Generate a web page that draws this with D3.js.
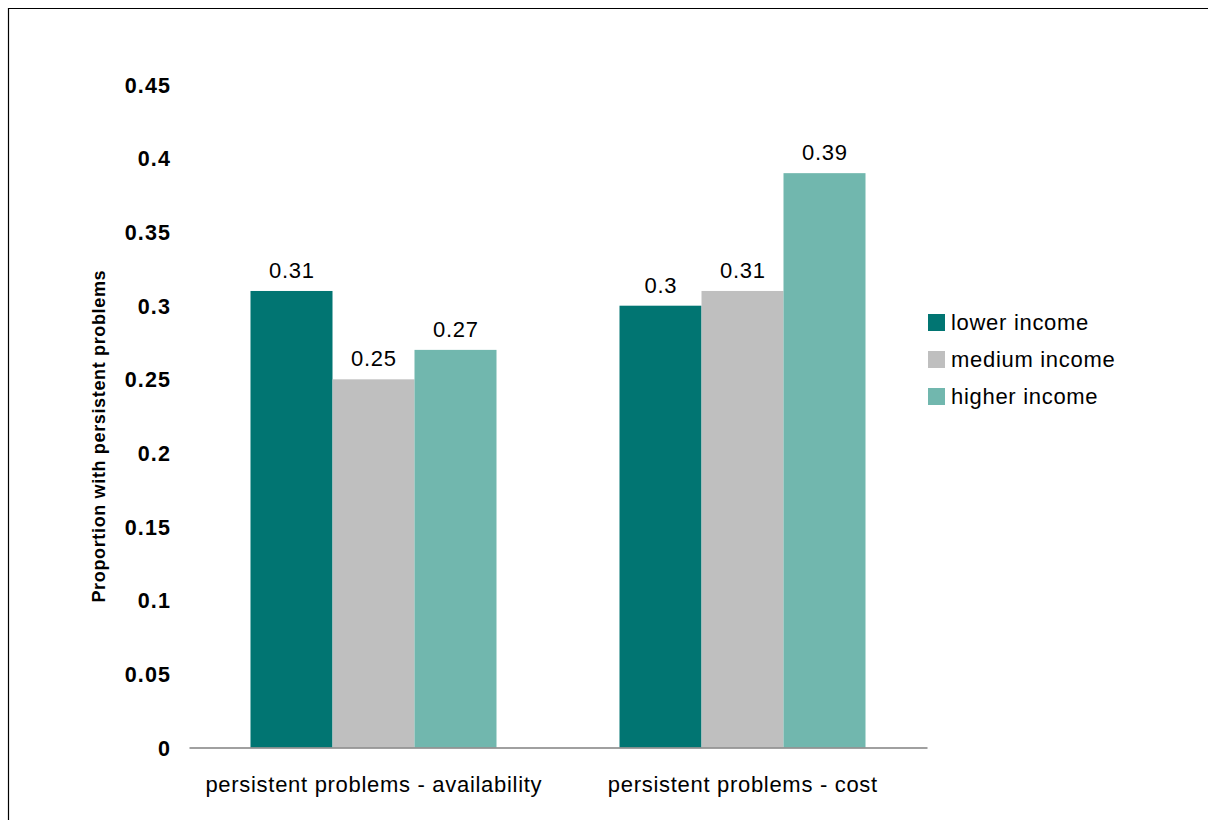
<!DOCTYPE html>
<html>
<head>
<meta charset="utf-8">
<script src="https://cdn.jsdelivr.net/npm/d3@7"></script>
<style>
  html, body { margin: 0; padding: 0; background: #fff; }
  svg { display: block; font-family: "Liberation Sans", Arial, sans-serif; }
</style>
</head>
<body>
<svg id="chart" width="1208" height="820"></svg>
<script>
// Chart data
const categories = ["persistent problems - availability", "persistent problems - cost"];
const seriesNames = ["lower income", "medium income", "higher income"];
const lowerIncome = [0.31, 0.30];
const mediumIncome = [0.25, 0.31];
const higherIncome = [0.27, 0.39];
const yTicks = [0, 0.05, 0.1, 0.15, 0.2, 0.25, 0.3, 0.35, 0.4, 0.45];
const colors = ["#017572", "#BFBFBF", "#71B7AE"];

const seriesValues = [lowerIncome, mediumIncome, higherIncome];

const svg = d3.select("#chart");
const FS = 22;         // main text size
const LS = 0.7;        // letter spacing

// Outer frame (left and top edges visible)
svg.append("line").attr("x1", 8.5).attr("x2", 8.5).attr("y1", 8).attr("y2", 820)
  .attr("stroke", "#000").attr("stroke-width", 1.2);
svg.append("line").attr("x1", 8).attr("x2", 1208).attr("y1", 8.5).attr("y2", 8.5)
  .attr("stroke", "#000").attr("stroke-width", 1.2);

const plot = { left: 189, right: 927, top: 84.8, bottom: 747.5 };

const y = d3.scaleLinear().domain([0, 0.45]).range([plot.bottom, plot.top]);
const x0 = d3.scaleBand().domain(categories).range([plot.left, plot.right]).padding(0);
const x1 = d3.scaleBand().domain(seriesNames)
  .range([x0.bandwidth() / 6, x0.bandwidth() * 5 / 6]).padding(0);

// Y tick labels (no axis line)
const yAxis = d3.axisLeft(y).tickValues(yTicks).tickSize(0).tickPadding(0)
  .tickFormat(d => d3.format("~g")(d));
const yG = svg.append("g").attr("transform", `translate(171,0)`).call(yAxis);
yG.select(".domain").remove();
yG.selectAll("text")
  .attr("font-family", "Liberation Sans, Arial, sans-serif")
  .attr("font-size", 21.5).attr("font-weight", "bold").attr("fill", "#000")
  .attr("letter-spacing", 1.1).attr("dy", "0.35em");

// Y axis title
svg.append("text")
  .attr("transform", `translate(105,${(plot.top + plot.bottom) / 2 + 20}) rotate(-90)`)
  .attr("text-anchor", "middle")
  .attr("font-size", 18).attr("font-weight", "bold").attr("fill", "#000")
  .attr("letter-spacing", 0.65)
  .text("Proportion with persistent problems");

// Bars
const groups = svg.append("g").selectAll("g").data(categories).join("g")
  .attr("transform", d => `translate(${x0(d)},0)`);

groups.each(function (cat, ci) {
  const g = d3.select(this);
  const rows = seriesNames.map((s, si) => ({ s, si, v: seriesValues[si][ci] }));
  g.selectAll("rect").data(rows).join("rect")
    .attr("x", d => x1(d.s))
    .attr("y", d => y(d.v))
    .attr("width", x1.bandwidth())
    .attr("height", d => y(0) - y(d.v))
    .attr("fill", d => colors[d.si]);
  g.selectAll("text").data(rows).join("text")
    .attr("x", d => x1(d.s) + x1.bandwidth() / 2 + LS / 2)
    .attr("y", d => y(d.v) - 13)
    .attr("text-anchor", "middle")
    .attr("font-size", FS).attr("letter-spacing", LS).attr("fill", "#000")
    .text(d => d3.format("~g")(d.v));
});

// X baseline and category labels
const xAxis = d3.axisBottom(x0).tickSize(0).tickPadding(0);
const xG = svg.append("g").attr("transform", `translate(0,${plot.bottom})`).call(xAxis);
xG.select(".domain").attr("stroke", "#808080").attr("stroke-width", 1.5);
xG.selectAll("text")
  .attr("font-family", "Liberation Sans, Arial, sans-serif")
  .attr("font-size", FS).attr("letter-spacing", LS).attr("fill", "#000")
  .attr("dy", 0).attr("y", 44).attr("x", LS / 2);

// Legend
const legend = svg.append("g").attr("transform", "translate(928,314)");
const items = legend.selectAll("g").data(seriesNames).join("g")
  .attr("transform", (d, i) => `translate(0,${i * 37})`);
items.append("rect").attr("width", 17).attr("height", 17)
  .attr("fill", (d, i) => colors[i]);
items.append("text").attr("x", 23).attr("y", 8.5).attr("dy", "0.35em")
  .attr("font-size", FS).attr("letter-spacing", LS).attr("fill", "#000").text(d => d);
</script>
</body>
</html>
